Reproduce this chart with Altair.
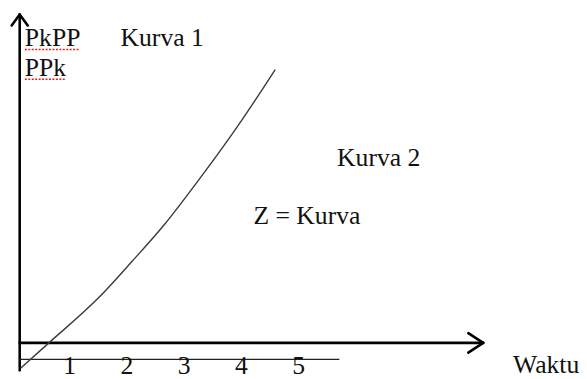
import altair as alt
import pandas as pd

# ---- data (chart units) ----
curve_x = [0.15, 0.64, 1.51, 2.08, 2.66, 3.23, 3.80, 4.21, 4.59]
curve_y = [-0.44, 0.0, 0.79, 1.41, 2.07, 2.81, 3.59, 4.19, 4.77]

tick_values = [1, 2, 3, 4, 5]
tick_labels = ["1", "2", "3", "4", "5"]

label_texts = ["PkPP", "PPk", "Kurva 1", "Kurva 2", "Z = Kurva", "Waktu"]
label_x = [0.22, 0.22, 1.89, 5.67, 4.21, 8.74]
label_y = [5.18, 4.65, 5.18, 3.08, 2.07, -0.53]

# spell-check underlines (start, end, level)
squiggle_x = [0.22, 0.22]
squiggle_x2 = [1.16, 0.94]
squiggle_y = [5.12, 4.60]

# axis geometry
axis_x0 = 0.13
x_axis_end = 8.22
y_axis_bottom = -0.48
y_axis_top = 5.73
scale_line_y = -0.29
scale_line_end = 5.71

X_DOMAIN = [-0.074, 9.892]
Y_DOMAIN = [-0.586, 5.800]

xs = alt.Scale(domain=X_DOMAIN, nice=False, zero=False)
ys = alt.Scale(domain=Y_DOMAIN, nice=False, zero=False)

FONT = "'Liberation Serif', 'Times New Roman', Times, 'DejaVu Serif', serif"
FS = 26

thick = pd.DataFrame({
    "x": [axis_x0, axis_x0, 7.96, 7.96, -0.01, 0.27],
    "y": [y_axis_bottom, 0.0, 0.17, -0.17, 5.54, 5.54],
    "x2": [axis_x0, x_axis_end, x_axis_end, x_axis_end, axis_x0, axis_x0],
    "y2": [y_axis_top, 0.0, 0.0, 0.0, y_axis_top, y_axis_top],
})
thin = pd.DataFrame({"x": [axis_x0], "y": [scale_line_y], "x2": [scale_line_end], "y2": [scale_line_y]})
curve = pd.DataFrame({"x": curve_x, "y": curve_y, "o": list(range(len(curve_x)))})
labels = pd.DataFrame({"t": label_texts, "x": label_x, "y": label_y})
ticks = pd.DataFrame({"t": tick_labels, "x": tick_values, "y": [-0.55] * len(tick_values)})
squig = pd.DataFrame({"x": squiggle_x, "x2": squiggle_x2, "y": squiggle_y})

X = lambda f: alt.X(f, type="quantitative", scale=xs, axis=None)
Y = lambda f: alt.Y(f, type="quantitative", scale=ys, axis=None)

thick_l = alt.Chart(thick).mark_rule(color="black", strokeWidth=2.6, strokeCap="round").encode(
    x=X("x"), y=Y("y"), x2="x2", y2="y2")
thin_l = alt.Chart(thin).mark_rule(color="#222", strokeWidth=1.3).encode(
    x=X("x"), y=Y("y"), x2="x2", y2="y2")
curve_l = alt.Chart(curve).mark_line(color="#3a3a3a", strokeWidth=1.4, interpolate="monotone").encode(
    x=X("x"), y=Y("y"), order="o:Q")
label_l = alt.Chart(labels).mark_text(font=FONT, fontSize=FS, align="left", baseline="alphabetic", color="#111").encode(
    x=X("x"), y=Y("y"), text="t:N")
tick_l = alt.Chart(ticks).mark_text(font=FONT, fontSize=FS, align="center", baseline="alphabetic", color="#111").encode(
    x=X("x"), y=Y("y"), text="t:N")
squig_l = alt.Chart(squig).mark_rule(color="#e0201a", strokeWidth=1.6, strokeDash=[2, 1.5]).encode(
    x=X("x"), x2="x2", y=Y("y"))

chart = alt.layer(thick_l, thin_l, curve_l, squig_l, label_l, tick_l).properties(
    width=579, height=371, autosize=alt.AutoSizeParams(type="none"), padding=0
).configure_view(stroke=None)

chart.save("out.html", embed_options={"renderer": "svg", "actions": False})
